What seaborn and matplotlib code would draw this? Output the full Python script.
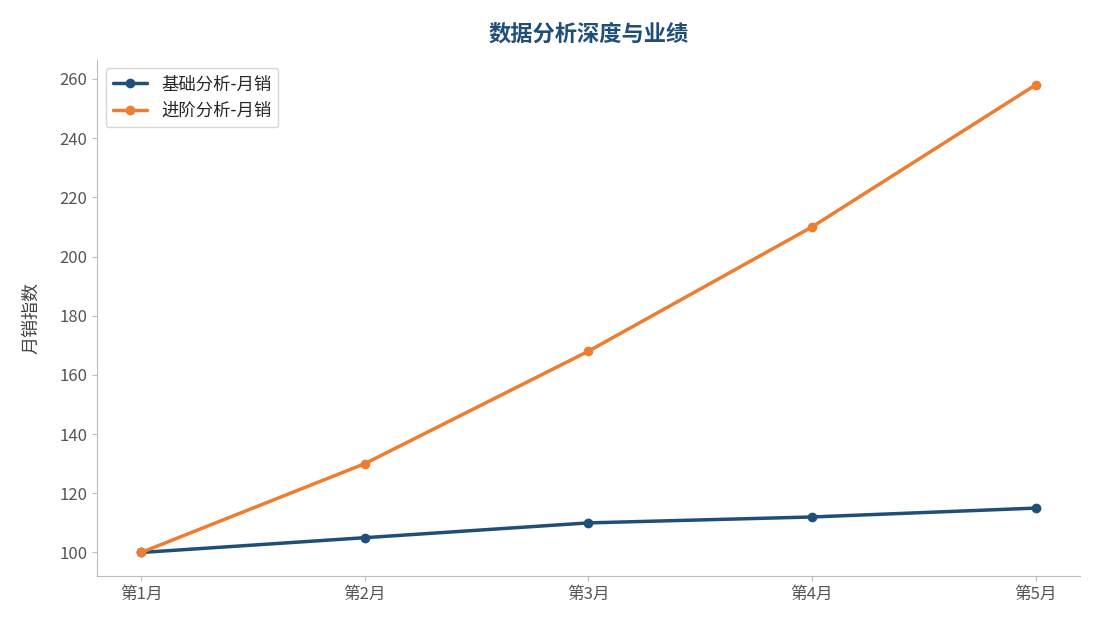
import matplotlib
matplotlib.use("Agg")
import matplotlib.pyplot as plt
import seaborn as sns
import pandas as pd

months = ["第1月", "第2月", "第3月", "第4月", "第5月"]
basic = [100, 105, 110, 112, 115]
advanced = [100, 130, 168, 210, 258]
series_names = ["基础分析-月销", "进阶分析-月销"]

sns.set_style("ticks")
plt.rcParams['font.family'] = ['Noto Sans CJK SC', 'DejaVu Sans']

df = pd.DataFrame({
    "月份": months * 2,
    "值": basic + advanced,
    "系列": [series_names[0]] * 5 + [series_names[1]] * 5,
})

fig = plt.figure(figsize=(10.95, 6.29), dpi=100)
ax = fig.add_axes([0.0886, 0.084, 0.898, 0.821])
sns.lineplot(data=df, x="月份", y="值", hue="系列", marker="o", markersize=7,
             markeredgewidth=0, linewidth=2.5,
             palette=["#1f4e79", "#ed7d31"], ax=ax, sort=False)
ax.set_xlim(-0.197, 4.2)
ax.set_ylim(92, 266.5)
ax.set_yticks(range(100, 261, 20))
ax.set_xlabel("")
ax.set_ylabel("月销指数", fontsize=13, color="#444444", labelpad=14)
ax.set_title("数据分析深度与业绩", fontsize=16, fontweight="bold", color="#1f4e79", pad=14)
for s in ["top", "right"]:
    ax.spines[s].set_visible(False)
for s in ["left", "bottom"]:
    ax.spines[s].set_color("#bbbbbb")
ax.tick_params(colors="#555555", labelsize=12)
ax.tick_params(axis="both", color="#bbbbbb")
leg = ax.legend(loc="upper left", fontsize=12.5, frameon=True)
leg.set_title(None)
fig.savefig("out.png", dpi=100)
